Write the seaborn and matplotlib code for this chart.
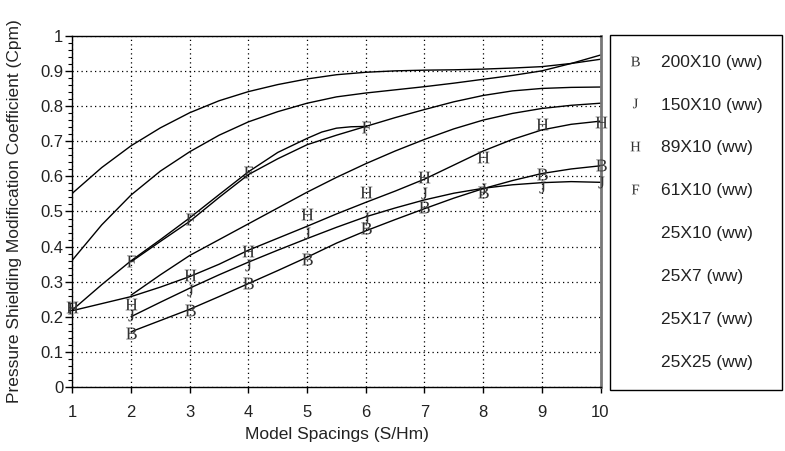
import matplotlib
matplotlib.use("Agg")
import matplotlib.pyplot as plt
from matplotlib.lines import Line2D
from matplotlib.ticker import MultipleLocator, FuncFormatter
import pandas as pd
import seaborn as sns

# ---------------- data ----------------
b200_x = [2, 3, 4, 5, 6, 7, 8, 9, 10]
b200_y = [0.155, 0.220, 0.297, 0.366, 0.452, 0.512, 0.555, 0.607, 0.633]
j150_x = [2, 3, 4, 5, 6, 7, 8, 9, 10]
j150_y = [0.205, 0.277, 0.348, 0.438, 0.481, 0.552, 0.564, 0.571, 0.585]
h89_x = [1, 2, 3, 4, 5, 6, 7, 8, 9, 10]
h89_y = [0.228, 0.237, 0.319, 0.389, 0.492, 0.556, 0.598, 0.656, 0.748, 0.755]
f61_x = [1, 2, 3, 4, 6]
f61_y = [0.226, 0.359, 0.479, 0.613, 0.741]

# fitted curves
cx_1_10 = [1, 1.5, 2, 2.5, 3, 3.5, 4, 4.5, 5, 5.5, 6, 6.5, 7, 7.5, 8, 8.5, 9, 9.5, 10]
cx_2_10 = [2, 2.5, 3, 3.5, 4, 4.5, 5, 5.5, 6, 6.5, 7, 7.5, 8, 8.5, 9, 9.5, 10]
cx_1_6 = [1, 1.5, 2, 2.5, 3, 3.5, 4, 4.5, 5, 5.25, 5.5, 5.75, 6]

fit_b200 = [0.158, 0.190, 0.222, 0.258, 0.295, 0.332, 0.370, 0.410, 0.445, 0.477,
            0.508, 0.538, 0.565, 0.588, 0.608, 0.621, 0.630]
fit_j150 = [0.201, 0.242, 0.282, 0.320, 0.356, 0.390, 0.423, 0.455, 0.485, 0.510,
            0.533, 0.552, 0.566, 0.576, 0.582, 0.585, 0.583]
fit_h89 = [0.218, 0.238, 0.258, 0.285, 0.315, 0.350, 0.390, 0.424, 0.458, 0.493,
           0.526, 0.558, 0.592, 0.632, 0.672, 0.705, 0.732, 0.748, 0.757]
fit_f61 = [0.220, 0.292, 0.360, 0.420, 0.482, 0.548, 0.613, 0.668, 0.708, 0.726,
           0.737, 0.741, 0.742]
fit_25x10 = [0.262, 0.320, 0.375, 0.420, 0.465, 0.510, 0.555, 0.597, 0.636, 0.672,
             0.705, 0.735, 0.760, 0.779, 0.793, 0.802, 0.808]
fit_25x7 = [0.357, 0.415, 0.472, 0.540, 0.605, 0.650, 0.690, 0.717, 0.742, 0.767,
            0.790, 0.812, 0.830, 0.843, 0.850, 0.853, 0.854]
fit_25x17 = [0.362, 0.462, 0.547, 0.615, 0.670, 0.717, 0.755, 0.784, 0.808, 0.826,
             0.837, 0.846, 0.855, 0.865, 0.876, 0.887, 0.900, 0.921, 0.945]
fit_25x25 = [0.552, 0.625, 0.687, 0.738, 0.781, 0.815, 0.841, 0.861, 0.877, 0.889,
             0.896, 0.900, 0.902, 0.903, 0.905, 0.908, 0.912, 0.921, 0.933]

labels = ["200X10 (ww)", "150X10 (ww)", "89X10 (ww)", "61X10 (ww)",
          "25X10 (ww)", "25X7 (ww)", "25X17 (ww)", "25X25 (ww)"]
marker_letters = ["B", "J", "H", "F"]
x_ticks = [1, 2, 3, 4, 5, 6, 7, 8, 9, 10]

# ---------------- style ----------------
sns.set_style("ticks")
plt.rcParams["font.family"] = ["Liberation Sans", "DejaVu Sans"]
plt.rcParams["mathtext.fontset"] = "custom"
plt.rcParams["mathtext.rm"] = "Liberation Serif"
plt.rcParams["mathtext.tt"] = "Liberation Mono"

W, H = 785, 451
fig = plt.figure(figsize=(W / 100, H / 100), dpi=100)
ax_l, ax_r, ax_t, ax_b = 72.4, 600.5, 35.7, 387.3
ax = fig.add_axes([ax_l / W, 1 - ax_b / H, (ax_r - ax_l) / W, (ax_b - ax_t) / H])

# curves
rows = []
for name, xs, ys in [
    (labels[0], cx_2_10, fit_b200), (labels[1], cx_2_10, fit_j150),
    (labels[2], cx_1_10, fit_h89), (labels[3], cx_1_6, fit_f61),
    (labels[4], cx_2_10, fit_25x10), (labels[5], cx_2_10, fit_25x7),
    (labels[6], cx_1_10, fit_25x17), (labels[7], cx_1_10, fit_25x25)]:
    for xv, yv in zip(xs, ys):
        rows.append({"x": xv, "y": yv, "series": name})
curves = pd.DataFrame(rows)
sns.lineplot(data=curves, x="x", y="y", units="series", estimator=None,
             color="black", linewidth=1.0, sort=False, ax=ax, zorder=2)

# markers (letters)
for letter, xs, ys in [("B", b200_x, b200_y), ("J", j150_x, j150_y),
                       ("H", h89_x, h89_y), ("F", f61_x, f61_y)]:
    sns.scatterplot(x=xs, y=ys, marker=r"$\mathrm{%s}$" % letter, color="#333333",
                    s=72, linewidth=0, ax=ax, zorder=3, clip_on=False)

# axes
ax.set_xlim(1, 10)
ax.set_ylim(0, 1)
ax.set_xticks(x_ticks)
ax.yaxis.set_major_locator(MultipleLocator(0.1))
ax.yaxis.set_minor_locator(MultipleLocator(0.02))
ax.yaxis.set_major_formatter(FuncFormatter(lambda v, p: f"{v:g}"))
ax.grid(True, which="major", color="black", linestyle=(0, (1, 2.6)), linewidth=0.9)
ax.set_axisbelow(True)
ax.tick_params(axis="x", which="major", direction="out", length=4, width=1,
               pad=8.5, labelsize=12, color="black", labelcolor="#222222")
ax.tick_params(axis="y", which="major", direction="out", length=5, width=1,
               pad=1.5, labelsize=12, color="black", labelcolor="#222222")
ax.tick_params(axis="y", which="minor", direction="out", length=3, width=0.8, color="black")
for s in ["left", "bottom", "top"]:
    ax.spines[s].set_color("black")
    ax.spines[s].set_linewidth(1.0)
    ax.spines[s].set_visible(True)
ax.spines["right"].set_visible(True)
ax.spines["right"].set_color("#777777")
ax.spines["right"].set_linewidth(2.0)

ax.set_xlabel("Model Spacings (S/Hm)", fontsize=12.5, color="#222222")
ax.set_ylabel("Pressure Shielding Modification Coefficient (Cpm)", fontsize=12.5, color="#222222")
ax.xaxis.set_label_coords(0.5, -(427 - ax_b) / (ax_b - ax_t))
ax.yaxis.set_label_coords((22 - ax_l) / (ax_r - ax_l), 0.5)

# legend
handles = [Line2D([], [], linestyle="none", marker=r"$\mathrm{%s}$" % m,
                  color="#333333", markersize=7, markeredgewidth=0)
           for m in marker_letters]
handles += [Line2D([], [], linestyle="none", marker="", color="none") for _ in range(4)]
leg = ax.legend(handles, labels, loc="upper left",
                bbox_to_anchor=(610 / W, 1 - 35 / H), bbox_transform=fig.transFigure,
                frameon=True, fancybox=False, edgecolor="black", framealpha=1,
                fontsize=12.5, labelspacing=1.6, borderpad=1.12,
                handlelength=0.69, handletextpad=1.1, borderaxespad=0)
leg.get_frame().set_linewidth(1.0)
for t in leg.get_texts():
    t.set_color("#222222")

fig.savefig("out.png", dpi=100)
